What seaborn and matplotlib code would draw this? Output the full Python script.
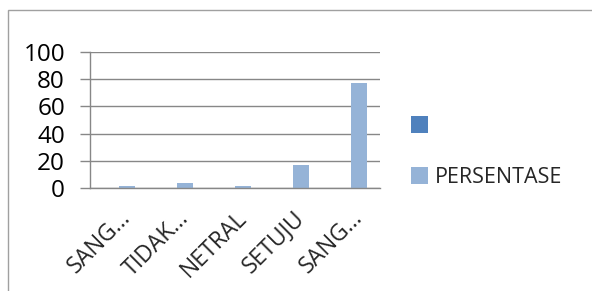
import matplotlib
matplotlib.use("Agg")
import matplotlib.pyplot as plt
import seaborn as sns
import pandas as pd
from matplotlib.patches import Patch, Rectangle

# data
categories = ["SANGAT TIDAK SETUJU", "TIDAK SETUJU", "NETRAL", "SETUJU", "SANGAT SETUJU"]
tick_labels = ["SANG...", "TIDAK...", "NETRAL", "SETUJU", "SANG..."]
series_names = [" ", "PERSENTASE"]
blank_values = [0, 0, 0, 0, 0]
persentase = [1.2, 3.6, 1.2, 16.7, 77.3]

df = pd.DataFrame({
    "kategori": categories * 2,
    "seri": [series_names[0]] * 5 + [series_names[1]] * 5,
    "nilai": blank_values + persentase,
})

sns.set_style("white")
plt.rcParams['font.family'] = ['Open Sans', 'DejaVu Sans']

dark = "#4F81BD"
light = "#95B3D7"
grid_c = "#878787"

fig = plt.figure(figsize=(5.92, 2.91), dpi=100)
ax = fig.add_axes([90 / 592, 1 - 188 / 291, 290 / 592, 136 / 291])

sns.barplot(data=df, x="kategori", y="nilai", hue="seri", order=categories,
            palette=[dark, light], saturation=1, width=0.56, gap=0, legend=False, ax=ax,
            edgecolor="none")

ax.set_ylim(0, 100)
ax.set_xlim(-0.5, 4.5)
ax.set_yticks([0, 20, 40, 60, 80, 100])
ax.yaxis.grid(True, color=grid_c, linewidth=1)
ax.set_axisbelow(True)
ax.set_xlabel("")
ax.set_ylabel("")

ax.set_xticks(range(5))
ax.set_xticklabels(tick_labels, rotation=45, ha="right", rotation_mode="anchor", fontsize=16.5)
ax.tick_params(axis="x", length=0, pad=13)
ax.set_xticks([i - 0.5 for i in range(6)], minor=True)
ax.tick_params(axis="x", which="minor", length=7, color=grid_c, width=1, direction="out")
ax.tick_params(axis="y", labelsize=17.5, length=7, color=grid_c, width=1, direction="out",
               left=True, pad=11, labelcolor="black")

for side in ["top", "right"]:
    ax.spines[side].set_visible(False)
for side in ["left", "bottom"]:
    ax.spines[side].set_color(grid_c)
    ax.spines[side].set_linewidth(1)

handles = [Patch(facecolor=dark, edgecolor="none"), Patch(facecolor=light, edgecolor="none")]
fig.legend(handles, series_names, loc="center left", bbox_to_anchor=(392 / 592, 1 - 152 / 291),
           frameon=False, fontsize=15.5, handlelength=0.75, handleheight=0.85,
           handletextpad=0.35, labelspacing=1.4)

# outer chart border
fig.patches.append(Rectangle((8 / 592, -0.1), 1.2, 1 - 10 / 291 + 0.1, transform=fig.transFigure,
                             fill=False, edgecolor="#A0A0A0", linewidth=1))

fig.savefig("out.png", dpi=100)
